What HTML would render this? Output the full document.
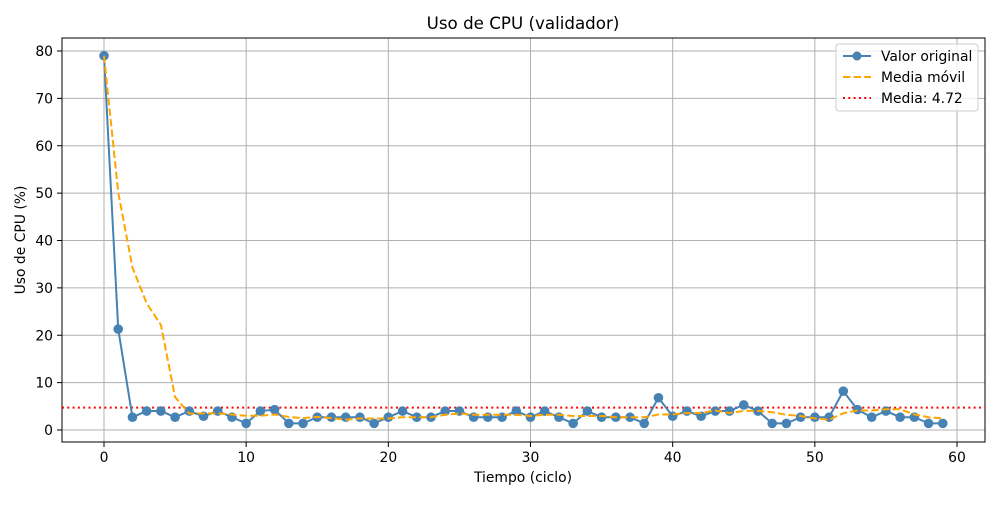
<!DOCTYPE html>
<html><head><meta charset="utf-8"><style>
body{margin:0;background:#fff;font-family:"Liberation Sans","DejaVu Sans",sans-serif}
svg text{font-family:"DejaVu Sans","Liberation Sans",sans-serif;fill:#000}
</style></head><body>
<svg id="chart" width="1000" height="500" viewBox="0 0 1000 500" xmlns="http://www.w3.org/2000/svg">
<rect width="1000" height="500" fill="#fff"/>
<text x="523" y="29" font-size="16.7" text-anchor="middle">Uso de CPU (validador)</text>
<g id="grid"></g>
<g id="ticks"></g>
<rect x="62" y="38" width="923" height="404" fill="none" stroke="#000" stroke-width="1"/>
<g id="series"></g>
<text x="523" y="482" font-size="13.9" text-anchor="middle">Tiempo (ciclo)</text>
<text x="25" y="240" font-size="13.9" text-anchor="middle" transform="rotate(-90 25 240)">Uso de CPU (%)</text>
<g>
<rect x="836" y="44" width="142" height="67" rx="3" fill="#fff" fill-opacity="0.8" stroke="#ccc"/>
<g><line x1="843" y1="56" x2="871" y2="56" stroke="#4682b4" stroke-width="2"/><circle cx="857" cy="56" r="4.5" fill="#4682b4"/><text x="881" y="61" font-size="13.9">Valor original</text></g>
<g><line x1="843" y1="77" x2="871" y2="77" stroke="orange" stroke-width="2" stroke-dasharray="7.4,3.2"/><text x="881" y="82" font-size="13.9">Media móvil</text></g>
<g><line x1="843" y1="98" x2="871" y2="98" stroke="red" stroke-width="2" stroke-dasharray="2,3.3"/><text x="881" y="103" font-size="13.9">Media: 4.72</text></g>
</g>
</svg>
<script>
const values=[79,21.3,2.7,4,4,2.7,4,2.9,4,2.7,1.4,4,4.3,1.4,1.4,2.7,2.7,2.7,2.7,1.4,2.7,4,2.7,2.7,4,4,2.7,2.7,2.7,4,2.7,4,2.7,1.4,4,2.7,2.7,2.7,1.4,6.8,2.9,4,2.9,4,4,5.3,4,1.4,1.4,2.7,2.7,2.7,8.2,4.3,2.7,4,2.7,2.7,1.4,1.4];
const meanValue=4.72;
const xTicks=[0,10,20,30,40,50,60];
const yTicks=[0,10,20,30,40,50,60,70,80];
const window5=5;
const NS="http://www.w3.org/2000/svg";
const X=v=>104+(957-104)*v/60;
const Y=v=>430-(430-51)*v/80;
function mk(tag,attrs,parent){const e=document.createElementNS(NS,tag);for(const k in attrs)e.setAttribute(k,attrs[k]);parent.appendChild(e);return e;}
const grid=document.getElementById('grid'),ticks=document.getElementById('ticks'),series=document.getElementById('series');
xTicks.forEach(t=>{const x=X(t);
 const g=mk('line',{x1:x,y1:38,x2:x,y2:442,stroke:'#b0b0b0','stroke-width':1},grid);
 
 
 mk('line',{x1:x,y1:442,x2:x,y2:447,stroke:'#000'},ticks);
 const tx=mk('text',{x:x,y:462,'font-size':13.9,'text-anchor':'middle'},ticks);tx.textContent=t;
 
 });
yTicks.forEach(t=>{const y=Y(t);
 const g=mk('line',{x1:62,y1:y,x2:985,y2:y,stroke:'#b0b0b0','stroke-width':1},grid);
 
 
 mk('line',{x1:57,y1:y,x2:62,y2:y,stroke:'#000'},ticks);
 const tx=mk('text',{x:53,y:y+5,'font-size':13.9,'text-anchor':'end'},ticks);tx.textContent=t;
 
 });
const ma=values.map((v,i)=>{const s=values.slice(Math.max(0,i-window5+1),i+1);return s.reduce((a,b)=>a+b,0)/s.length;});
const ml=mk('line',{x1:62,y1:Y(meanValue),x2:985,y2:Y(meanValue),stroke:'red','stroke-width':2,'stroke-dasharray':'2,3.3'},series);


const op=mk('polyline',{points:values.map((v,i)=>X(i)+','+Y(v)).join(' '),fill:'none',stroke:'#4682b4','stroke-width':2},series);


values.forEach((v,i)=>{const c=mk('circle',{cx:X(i),cy:Y(v),r:4.8,fill:'#4682b4'},series);
 
 });
const mp=mk('polyline',{points:ma.map((v,i)=>X(i)+','+Y(v)).join(' '),fill:'none',stroke:'orange','stroke-width':2,'stroke-dasharray':'7.4,3.2'},series);


</script>
</body></html>
